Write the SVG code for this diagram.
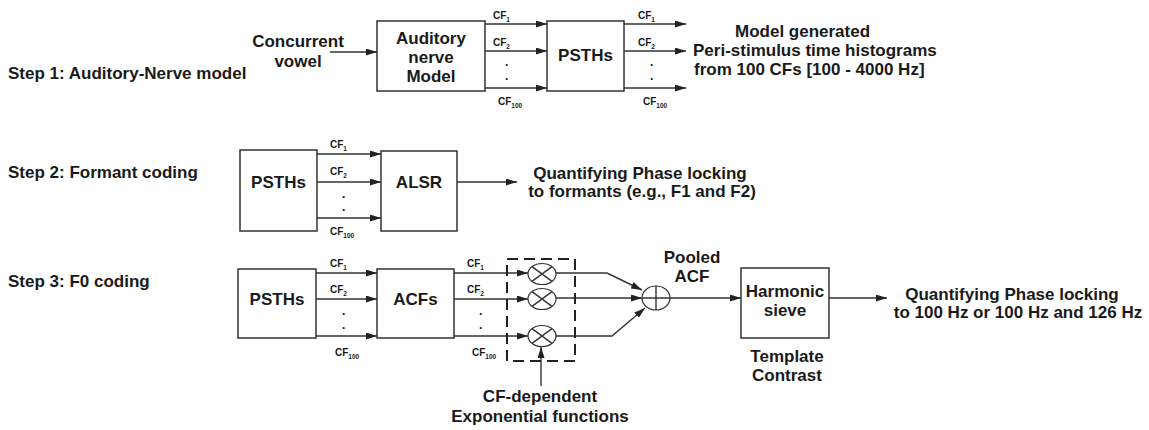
<svg xmlns="http://www.w3.org/2000/svg" width="1149" height="430" viewBox="0 0 1149 430">
<style>
text{font-family:"Liberation Sans",Arial,sans-serif;fill:#1a1a1a}
.t{font-size:17px;font-weight:bold}
.c{text-anchor:middle}
.cf{font-size:10px;font-weight:bold}
.sub{font-size:6.5px}
.dot{font-size:12px;font-weight:bold}
.box{fill:#fff;stroke:#333;stroke-width:1.5}
.ln{fill:none;stroke:#333;stroke-width:1.4}
.ar{fill:none;stroke:#333;stroke-width:1.4;marker-end:url(#ah)}
.el{fill:#fff;stroke:#333;stroke-width:1.2}
.dash{fill:none;stroke:#222;stroke-width:2;stroke-dasharray:11 6}
</style>
<defs>
<marker id="ah" viewBox="0 0 11 7" refX="11" refY="3.5" markerWidth="11" markerHeight="7" markerUnits="userSpaceOnUse" orient="auto"><path d="M0,0 L11,3.5 L0,7 z" fill="#222"/></marker>
</defs>
<rect width="1149" height="430" fill="#fff"/>

<g id="step-labels">
<text class="t" x="8" y="79">Step 1: Auditory-Nerve model</text>
<text class="t" x="8" y="178">Step 2: Formant coding</text>
<text class="t" x="8" y="287">Step 3: F0 coding</text>
</g>

<g id="connectors">
<!-- step 1 -->
<line class="ar" x1="330" y1="52" x2="377" y2="52"/>
<line class="ar" x1="485" y1="24" x2="547" y2="24"/>
<line class="ar" x1="485" y1="51" x2="547" y2="51"/>
<line class="ar" x1="485" y1="88" x2="547" y2="88"/>
<line class="ar" x1="624" y1="24" x2="686" y2="24"/>
<line class="ar" x1="624" y1="51" x2="686" y2="51"/>
<line class="ar" x1="624" y1="88" x2="686" y2="88"/>
<!-- step 2 -->
<line class="ar" x1="317" y1="154" x2="381" y2="154"/>
<line class="ar" x1="317" y1="182" x2="381" y2="182"/>
<line class="ar" x1="317" y1="218" x2="381" y2="218"/>
<line class="ar" x1="457" y1="182" x2="517" y2="182"/>
<!-- step 3 -->
<line class="ar" x1="316" y1="273" x2="377" y2="273"/>
<line class="ar" x1="316" y1="299" x2="377" y2="299"/>
<line class="ar" x1="316" y1="336" x2="377" y2="336"/>
<line class="ar" x1="454" y1="273" x2="528" y2="273"/>
<line class="ar" x1="454" y1="299" x2="528" y2="299"/>
<line class="ar" x1="454" y1="336" x2="528" y2="336"/>
<polyline class="ar" points="556,273 607,273 642,290"/>
<line class="ar" x1="556" y1="298" x2="642" y2="298"/>
<polyline class="ar" points="556,336 612,336 645,308"/>
<line class="ar" x1="541" y1="386" x2="541" y2="347"/>
<line class="ar" x1="670" y1="298" x2="741" y2="298"/>
<line class="ar" x1="829" y1="298" x2="887" y2="298"/>
</g>

<g id="input-label">
<text class="t c" x="298" y="47">Concurrent</text>
<text class="t c" x="298" y="67">vowel</text>
</g>

<g id="an-model">
<rect class="box" x="377" y="21" width="108" height="70"/>
<text class="t c" x="431" y="44">Auditory</text>
<text class="t c" x="431" y="63">nerve</text>
<text class="t c" x="431" y="82">Model</text>
</g>

<g id="cf-labels-1">
<text class="cf" x="493" y="19">CF<tspan class="sub" dy="3">1</tspan></text>
<text class="cf" x="493" y="46">CF<tspan class="sub" dy="3">2</tspan></text>
<text class="dot" x="505" y="66">.</text>
<text class="dot" x="505" y="80">.</text>
<text class="cf" x="498" y="105">CF<tspan class="sub" dy="3">100</tspan></text>
</g>

<g id="psths-1">
<rect class="box" x="547" y="21" width="77" height="70"/>
<text class="t c" x="585.5" y="61">PSTHs</text>
</g>

<g id="cf-labels-2">
<text class="cf" x="638" y="19">CF<tspan class="sub" dy="3">1</tspan></text>
<text class="cf" x="638" y="46">CF<tspan class="sub" dy="3">2</tspan></text>
<text class="dot" x="650" y="66">.</text>
<text class="dot" x="650" y="80">.</text>
<text class="cf" x="643" y="105">CF<tspan class="sub" dy="3">100</tspan></text>
</g>

<g id="output-1">
<text class="t" x="735" y="37">Model generated</text>
<text class="t" x="693" y="56">Peri-stimulus time histograms</text>
<text class="t" x="694" y="75">from 100 CFs [100 - 4000 Hz]</text>
</g>

<g id="psths-2">
<rect class="box" x="240" y="150" width="77" height="81"/>
<text class="t c" x="278.5" y="188">PSTHs</text>
</g>

<g id="cf-labels-3">
<text class="cf" x="330" y="148">CF<tspan class="sub" dy="3">1</tspan></text>
<text class="cf" x="330" y="175">CF<tspan class="sub" dy="3">2</tspan></text>
<text class="dot" x="342" y="198">.</text>
<text class="dot" x="342" y="211">.</text>
<text class="cf" x="330" y="235">CF<tspan class="sub" dy="3">100</tspan></text>
</g>

<g id="alsr">
<rect class="box" x="381" y="151" width="76" height="80"/>
<text class="t c" x="419" y="188">ALSR</text>
</g>

<g id="output-2">
<text class="t c" x="640" y="179">Quantifying Phase locking</text>
<text class="t c" x="642" y="197">to formants (e.g., F1 and F2)</text>
</g>

<g id="psths-3">
<rect class="box" x="238" y="269" width="78" height="69"/>
<text class="t c" x="277" y="305">PSTHs</text>
</g>

<g id="cf-labels-4">
<text class="cf" x="330" y="267">CF<tspan class="sub" dy="3">1</tspan></text>
<text class="cf" x="330" y="293">CF<tspan class="sub" dy="3">2</tspan></text>
<text class="dot" x="342" y="315">.</text>
<text class="dot" x="342" y="329">.</text>
<text class="cf" x="335" y="356">CF<tspan class="sub" dy="3">100</tspan></text>
</g>

<g id="acfs">
<rect class="box" x="377" y="269" width="77" height="69"/>
<text class="t c" x="415.5" y="305">ACFs</text>
</g>

<g id="cf-labels-5">
<text class="cf" x="467" y="267">CF<tspan class="sub" dy="3">1</tspan></text>
<text class="cf" x="467" y="293">CF<tspan class="sub" dy="3">2</tspan></text>
<text class="dot" x="479" y="315">.</text>
<text class="dot" x="479" y="329">.</text>
<text class="cf" x="472" y="356">CF<tspan class="sub" dy="3">100</tspan></text>
</g>

<g id="exp-functions">
<rect class="dash" x="507" y="259" width="68" height="102"/>
<ellipse class="el" cx="542" cy="274" rx="14" ry="10.5"/>
<path class="ln" d="M532,266.6 L552,281.4 M532,281.4 L552,266.6" stroke-width="1"/>
<ellipse class="el" cx="542" cy="299" rx="14" ry="10.5"/>
<path class="ln" d="M532,291.6 L552,306.4 M532,306.4 L552,291.6" stroke-width="1"/>
<ellipse class="el" cx="542" cy="336" rx="14" ry="10.5"/>
<path class="ln" d="M532,328.6 L552,343.4 M532,343.4 L552,328.6" stroke-width="1"/>
</g>

<g id="exp-label">
<text class="t c" x="540" y="402">CF-dependent</text>
<text class="t c" x="540" y="422">Exponential functions</text>
</g>

<g id="sum">
<ellipse class="el" cx="656" cy="298" rx="14" ry="12"/>
<path class="ln" d="M656,286 L656,310 M642,298 L670,298" stroke-width="1"/>
</g>

<g id="pooled-label">
<text class="t c" x="692" y="263">Pooled</text>
<text class="t c" x="692" y="282">ACF</text>
</g>

<g id="harmonic-sieve">
<rect class="box" x="741" y="268" width="88" height="70"/>
<text class="t c" x="785" y="297">Harmonic</text>
<text class="t c" x="785" y="316">sieve</text>
</g>

<g id="template-label">
<text class="t c" x="787" y="362">Template</text>
<text class="t c" x="787" y="381">Contrast</text>
</g>

<g id="output-3">
<text class="t c" x="1012" y="300">Quantifying Phase locking</text>
<text class="t c" x="1018" y="318">to 100 Hz or 100 Hz and 126 Hz</text>
</g>
</svg>
